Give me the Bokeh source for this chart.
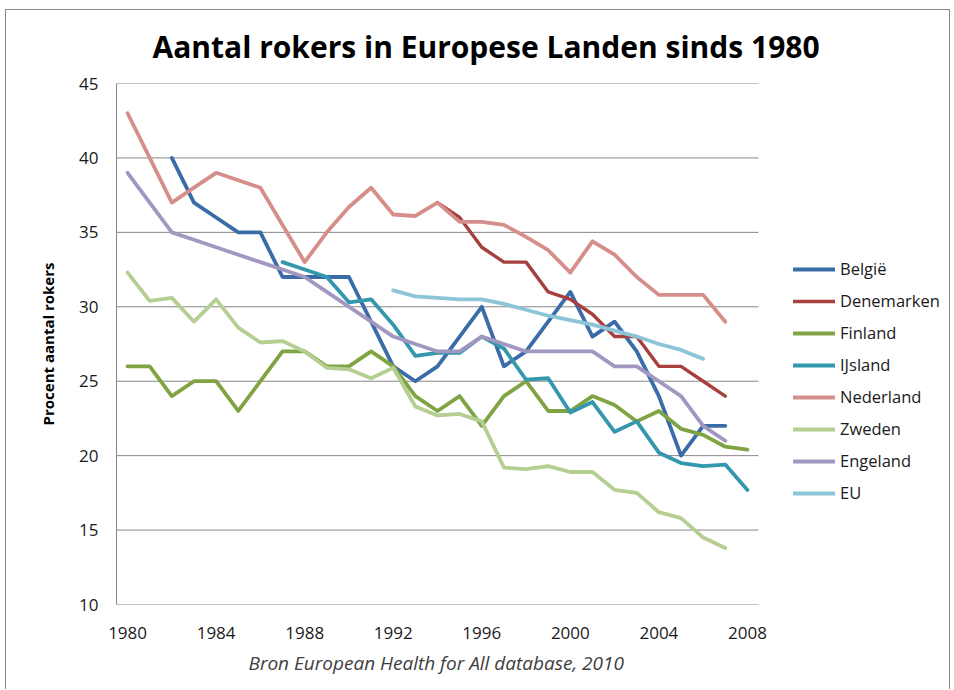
import math
from bokeh.plotting import figure
from bokeh.models import Range1d, FixedTicker, Legend, LegendItem, ColumnDataSource, Title
from bokeh.embed import file_html
from bokeh.resources import INLINE

nan = float("nan")

years = list(range(1980, 2009))
x_ticks = [1980, 1984, 1988, 1992, 1996, 2000, 2004, 2008]
y_ticks = [10, 15, 20, 25, 30, 35, 40, 45]

belgie = [nan, nan, 40, 37, 36, 35, 35, 32, 32, 32, 32, 29, 26, 25, 26, 28, 30, 26, 27, 29,
          31, 28, 29, 27, 24, 20, 22, 22, nan]
denemarken = [nan, nan, nan, nan, nan, nan, nan, nan, nan, nan, nan, nan, nan, nan, 37, 36, 34, 33, 33, 31,
              30.5, 29.5, 28, 28, 26, 26, 25, 24, nan]
finland = [26, 26, 24, 25, 25, 23, 25, 27, 27, 26, 26, 27, 26, 24, 23, 24, 22, 24, 25, 23,
           23, 24, 23.4, 22.3, 23, 21.8, 21.4, 20.6, 20.4]
ijsland = [nan, nan, nan, nan, nan, nan, nan, 33, 32.5, 32, 30.3, 30.5, 28.8, 26.7, 26.9, 26.9, 28, 27.2, 25.1, 25.2,
           22.9, 23.6, 21.6, 22.3, 20.2, 19.5, 19.3, 19.4, 17.7]
nederland = [43, 40, 37, 38, 39, 38.5, 38, 35.5, 33, 35, 36.7, 38, 36.2, 36.1, 37, 35.7, 35.7, 35.5, 34.7, 33.8,
             32.3, 34.4, 33.5, 32.0, 30.8, 30.8, 30.8, 29, nan]
zweden = [32.3, 30.4, 30.6, 29, 30.5, 28.6, 27.6, 27.7, 27, 25.9, 25.8, 25.2, 25.9, 23.3, 22.7, 22.8, 22.3, 19.2, 19.1, 19.3,
          18.9, 18.9, 17.7, 17.5, 16.2, 15.8, 14.5, 13.8, nan]
engeland = [39, 37, 35, 34.5, 34, 33.5, 33, 32.5, 32, 31, 30, 29, 28, 27.5, 27, 27, 28, 27.5, 27, 27,
            27, 27, 26, 26, 25, 24, 22, 21, nan]
eu = [nan, nan, nan, nan, nan, nan, nan, nan, nan, nan, nan, nan, 31.1, 30.7, 30.6, 30.5, 30.5, 30.2, 29.8, 29.4,
      29.1, 28.8, 28.4, 28.0, 27.5, 27.1, 26.5, nan, nan]

series_names = ["België", "Denemarken", "Finland", "IJsland", "Nederland", "Zweden", "Engeland", "EU"]
series_values = [belgie, denemarken, finland, ijsland, nederland, zweden, engeland, eu]
series_colors = ["#3A6CA8", "#A63F3D", "#80A343", "#3397AE", "#D68E8B", "#B5CE91", "#A197C0", "#8CC5D8"]
series_widths = [3.8, 3.4, 3.8, 3.8, 3.8, 3.8, 3.8, 3.8]

title_text = "Aantal rokers in Europese Landen sinds 1980"
y_label = "Procent aantal rokers"
x_label = "Bron European Health for All database, 2010"

FONT = "Open Sans"

# category axis: half a year of padding on each side of the data span
X0 = years[0] - 0.5
X1 = years[-1] + 0.5
PLOT_W = 642                      # pixel width of the category area
FRAME_W = 829                     # frame extends under the legend
X_END = X0 + (X1 - X0) * FRAME_W / PLOT_W

p = figure(width=945, height=680, output_backend="svg", toolbar_location=None,
           x_range=Range1d(X0, X_END), y_range=Range1d(10, 45),
           min_border_left=110, min_border_right=6, min_border_top=73, min_border_bottom=86,
           title=title_text)
p.styles = {"margin-left": "5px", "margin-top": "9px",
            "border-top": "1px solid #888888", "border-left": "1px solid #888888",
            "border-right": "1px solid #888888"}

p.title.text_font = FONT
p.title.text_font_size = "30px"
p.title.text_font_style = "bold"
p.title.text_color = "#000000"
p.title.align = "left"
p.title.offset = 36
p.title.standoff = 30
p.title.vertical_align = "top"

p.outline_line_color = None
p.background_fill_color = "white"
p.border_fill_color = "white"

p.xgrid.grid_line_color = None
p.ygrid.grid_line_color = None

# horizontal gridlines and bottom axis line only across the category area
p.segment(x0=[X0] * len(y_ticks), x1=[X1] * len(y_ticks), y0=y_ticks, y1=y_ticks,
          line_color="#868686", line_width=1)

for ax in (p.xaxis[0], p.yaxis[0]):
    ax.axis_line_color = "#868686"
    ax.axis_line_width = 1
    ax.major_tick_line_color = None
    ax.minor_tick_line_color = None
    ax.major_tick_in = 0
    ax.major_tick_out = 0
    ax.minor_tick_in = 0
    ax.minor_tick_out = 0
    ax.major_label_text_font = FONT
    ax.major_label_text_font_size = "17px"
    ax.major_label_text_color = "#1a1a1a"

p.xaxis.axis_line_color = None
p.xaxis.ticker = FixedTicker(ticks=x_ticks)
p.yaxis.ticker = FixedTicker(ticks=y_ticks)
p.xaxis.major_label_standoff = 22
p.yaxis.major_label_standoff = 18

p.yaxis.axis_label = y_label
p.yaxis.axis_label_text_font = FONT
p.yaxis.axis_label_text_font_size = "15px"
p.yaxis.axis_label_text_font_style = "bold"
p.yaxis.axis_label_text_color = "#000000"
p.yaxis.axis_label_standoff = 18

caption = Title(text=x_label, align="left", offset=132, standoff=13,
                text_font=FONT, text_font_size="19px", text_font_style="italic",
                text_color="#404040")
p.add_layout(caption, "below")

items = []
for name, vals, col, lw in zip(series_names, series_values, series_colors, series_widths):
    src = ColumnDataSource(data=dict(x=years, y=vals))
    r = p.line("x", "y", source=src, line_color=col, line_width=lw, line_join="round", line_cap="round")
    items.append(LegendItem(label=name, renderers=[r]))

legend = Legend(items=items, location=(677, 100))
legend.background_fill_alpha = 0
legend.border_line_color = None
legend.padding = 0
legend.margin = 0
legend.spacing = 9
legend.glyph_width = 42
legend.glyph_height = 20
legend.label_height = 20
legend.label_standoff = 5
legend.label_text_font = FONT
legend.label_text_font_size = "16.5px"
legend.label_text_color = "#1a1a1a"
p.add_layout(legend, "center")

open("out.html", "w").write(file_html(p, INLINE))
